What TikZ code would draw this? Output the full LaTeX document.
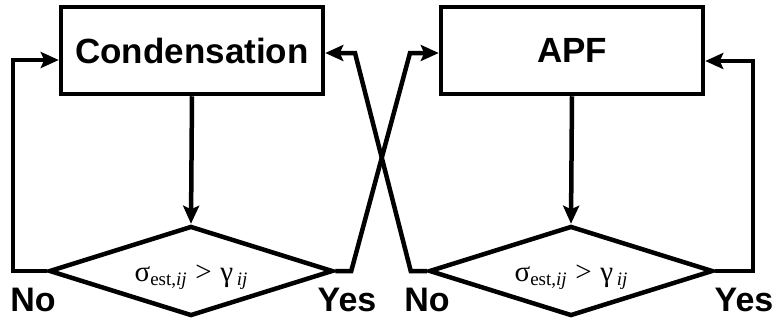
\documentclass[tikz,border=0pt]{standalone}
\usepackage{fontspec}
\setsansfont{Liberation Sans}
\newfontfamily\timesgr{Liberation Serif}
\usetikzlibrary{shapes.geometric,arrows.meta}

\tikzset{
  flow/.style={line width=4.5pt,-{Stealth[length=18pt,width=16pt,inset=3.5pt]}},
  procbox/.style={draw,line width=4.5pt,minimum width=262pt,minimum height=87pt,
    font=\sffamily\bfseries\fontsize{35}{38}\selectfont},
  decision/.style={draw,diamond,line width=4.5pt,minimum width=284pt,minimum height=90pt,inner sep=0pt},
  answer/.style={font=\sffamily\bfseries\fontsize{34}{36}\selectfont},
}
% threshold test written in the diamonds
\newcommand{\threshtest}{{\timesgr\fontsize{29}{30}\selectfont
  σ\raisebox{-4pt}{\fontsize{19}{20}\selectfont est,\textit{ij}}\hspace{0.3em}>\hspace{0.3em}γ\hspace{0.12em}\raisebox{-4pt}{\fontsize{19}{20}\selectfont\textit{ij}}}}

\begin{document}
\begin{tikzpicture}[x=1pt,y=-1pt]
	\useasboundingbox (0,0) rectangle (779,325);
	% process boxes
	\node[procbox] (cond) at (192,50.5) {Condensation};
	\node[procbox] (apf) at (572,50.5) {APF};
	% decisions
	\node[decision,label={[yshift=-6pt]center:\threshtest}] (test1) at (191,271) {};
	\node[decision,label={[yshift=-6pt]center:\threshtest}] (test2) at (571,271) {};
	% answers
	\node[answer] (no1) at (33,300) {No};
	\node[answer] (yes1) at (347,300) {Yes};
	\node[answer] (no2) at (427,300) {No};
	\node[answer] (yes2) at (744,300) {Yes};
	% bends of the crossing lines
	\coordinate (bendA) at (410,53);
	\coordinate (bendB) at (355,53);
	% connectors
	\draw[flow] (cond.south) -- (test1.north);
	\draw[flow] (apf.south) -- (test2.north);
	\draw[flow] (test1.west) -- (13,271) |- ([yshift=-9.5pt]cond.west);
	\draw[flow] (test1.east) -- ++(16,0) -- (bendA) -- ([yshift=-2.5pt]apf.west);
	\draw[flow] (test2.west) -- ++(-16,0) -- (bendB) -- ([yshift=-2.5pt]cond.east);
	\draw[flow] (test2.east) -- (753,271) |- ([yshift=-10.5pt]apf.east);
\end{tikzpicture}
\end{document}
